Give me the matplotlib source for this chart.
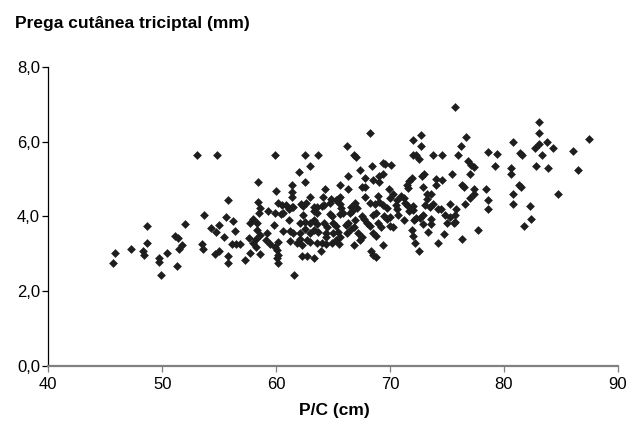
import matplotlib
matplotlib.use("Agg")
import matplotlib.pyplot as plt
from matplotlib.ticker import FuncFormatter

plt.rcParams["font.family"] = ["Liberation Sans", "DejaVu Sans"]

# P/C (cm) vs prega cutanea triciptal (mm)
pc_cm = [
    53.1, 54.8, 59.9, 58.4, 60.0, 61.4, 61.4,
    68.2, 66.2, 62.5, 63.7, 66.8, 67.0, 63.0, 62.0, 62.5, 66.3, 67.4, 68.4, 69.4,
    69.6, 70.1, 69.4, 69.0, 67.8, 68.5, 69.0, 65.6, 66.3, 64.3, 67.5, 67.8, 69.9, 70.3,
    75.7, 72.7, 72.0, 72.7, 76.7, 76.2, 80.8, 72.0, 72.3, 72.5, 73.8, 74.6, 76.0, 78.6,
    79.4, 76.8, 77.1, 77.4, 79.2, 80.6, 80.6, 77.0, 75.4, 72.8, 73.0, 71.9, 71.7, 71.5,
    71.6, 74.0, 74.6, 74.0, 72.9, 76.3, 76.5, 77.4, 78.4, 73.2, 73.6, 77.4, 80.8,
    83.1, 83.1, 83.8, 83.1, 82.7, 84.3, 87.5, 86.1, 81.4, 81.6, 83.3, 82.8, 83.9, 86.5,
    81.3, 81.5, 84.7,
    45.9, 45.7, 47.3, 48.7, 48.7, 48.3, 48.4, 49.7, 49.7, 49.9, 50.4, 51.3, 51.1, 51.4,
    51.7, 51.5, 52.0,
    61.4, 55.8, 58.4, 53.7, 55.6, 56.2, 58.6, 58.5, 59.3, 57.7, 58.0, 59.8, 60.2, 60.5,
    60.9, 59.9, 60.4, 60.6, 61.1, 61.4, 61.1, 60.6, 61.2, 54.3, 55.0, 54.7, 55.4, 56.4,
    56.1, 56.5, 56.8, 53.5, 53.6, 54.6, 55.0, 55.8, 55.8, 58.3, 58.3, 57.6, 58.0, 58.2,
    58.6, 59.2, 59.1, 58.2, 57.7, 58.6, 57.3, 59.5, 59.9, 60.2, 60.1, 60.2, 60.1, 60.2,
    61.2, 61.6,
    63.0, 64.1, 64.8, 65.4, 65.6, 67.8, 68.9, 70.0, 70.6, 71.0,
    61.5, 62.2, 62.4, 62.6, 63.3, 63.6, 64.0, 64.2, 64.7, 65.3, 65.6, 65.7, 66.6, 66.9,
    67.1, 68.2, 68.7, 69.0, 69.4, 69.7, 70.5, 70.6,
    62.4, 63.3, 63.6, 64.7, 64.9, 65.6, 65.9, 66.5, 66.7, 67.5, 67.7, 68.5, 68.8, 69.5,
    69.7, 70.0, 70.7,
    62.1, 62.5, 63.0, 63.3, 63.6, 64.2, 64.5, 65.0, 65.3, 66.1, 66.3, 66.9, 66.8, 68.0,
    68.2, 68.9, 69.2, 70.0, 70.3,
    61.5, 62.1, 62.5, 63.0, 63.3, 63.7, 64.4, 64.4, 65.0, 65.4, 65.6, 66.2, 66.6, 67.2,
    67.5, 68.5, 68.8,
    62.1, 61.8, 62.3, 62.7, 63.0, 63.6, 64.0, 64.4, 64.9, 65.3, 65.5, 66.8, 67.4, 69.4,
    63.9, 62.3, 62.7, 63.3, 68.3, 68.5, 68.8,
    73.2, 71.2, 71.3, 71.6, 72.0, 72.0, 71.7, 73.1, 73.5, 73.8, 74.2, 74.5, 75.3, 75.8,
    76.6, 77.0, 78.6, 78.6, 80.8, 71.2, 72.1, 72.3, 72.6, 72.9, 72.9, 73.6, 73.6, 74.8,
    75.3, 75.7, 75.0, 75.6, 75.7, 71.9, 72.0, 73.3, 74.7, 77.7, 72.2, 72.5, 74.2, 76.3,
    82.3, 82.4, 81.8,
]
prega_mm = [
    5.63, 5.63, 5.63, 4.93, 4.68, 4.84, 4.64,
    6.23, 5.88, 5.63, 5.63, 5.63, 5.60, 5.34, 5.18, 4.93, 5.08, 5.23, 5.34, 5.43,
    5.40, 5.38, 5.13, 5.07, 5.03, 4.98, 4.92, 4.83, 4.72, 4.72, 4.78, 4.78, 4.73, 4.61,
    6.93, 6.18, 6.03, 5.88, 6.13, 5.88, 5.99, 5.63, 5.63, 5.53, 5.63, 5.63, 5.63, 5.73,
    5.68, 5.49, 5.37, 5.33, 5.34, 5.29, 5.13, 5.13, 5.13, 5.08, 5.13, 5.03, 4.95, 4.84,
    4.75, 5.00, 4.98, 4.84, 4.79, 4.83, 4.78, 4.72, 4.72, 4.59, 4.59, 4.61, 4.60,
    6.53, 6.23, 5.99, 5.94, 5.84, 5.84, 6.08, 5.74, 5.69, 5.63, 5.63, 5.34, 5.29, 5.23,
    4.84, 4.78, 4.60,
    3.03, 2.74, 3.13, 3.74, 3.28, 3.08, 2.97, 2.88, 2.78, 2.43, 3.03, 2.67, 3.48, 3.41,
    3.24, 3.12, 3.79,
    4.51, 4.43, 4.38, 4.03, 3.98, 3.88, 4.22, 4.10, 4.13, 3.83, 3.92, 3.78, 4.37, 4.30,
    4.30, 4.08, 4.06, 4.08, 4.19, 4.24, 3.90, 3.62, 3.62, 3.68, 3.76, 3.57, 3.46, 3.62,
    3.25, 3.25, 3.25, 3.25, 3.12, 2.99, 3.08, 2.94, 2.75, 3.82, 3.64, 3.41, 3.28, 3.39,
    3.50, 3.55, 3.37, 3.19, 3.01, 2.99, 2.83, 3.26, 3.17, 3.32, 3.10, 2.97, 2.88, 2.75,
    3.35, 2.43,
    4.51, 4.51, 4.46, 4.46, 4.53, 4.53, 4.55, 4.48, 4.44, 4.55,
    4.26, 4.33, 4.28, 4.35, 4.24, 4.24, 4.28, 4.30, 4.37, 4.44, 4.33, 4.22, 4.26, 4.37,
    4.22, 4.35, 4.33, 4.39, 4.30, 4.22, 4.30, 4.19,
    4.04, 4.15, 4.08, 4.06, 4.01, 4.06, 4.10, 4.08, 4.15, 4.01, 3.92, 4.04, 4.10, 4.01,
    3.92, 3.99, 4.04,
    3.82, 3.86, 3.83, 3.89, 3.80, 3.82, 3.72, 3.82, 3.74, 3.77, 3.82, 3.90, 3.71, 3.82,
    3.74, 3.82, 3.71, 3.74, 3.71,
    3.55, 3.56, 3.65, 3.55, 3.64, 3.59, 3.56, 3.46, 3.55, 3.59, 3.46, 3.56, 3.65, 3.55,
    3.46, 3.55, 3.48,
    3.39, 3.30, 3.24, 3.37, 3.32, 3.28, 3.30, 3.26, 3.30, 3.37, 3.26, 3.24, 3.37, 3.24,
    3.08, 2.94, 2.94, 2.88, 3.06, 2.97, 2.90,
    4.46, 4.48, 4.35, 4.28, 4.28, 4.17, 4.13, 4.30, 4.24, 4.33, 4.19, 4.19, 4.33, 4.19,
    4.33, 4.48, 4.44, 4.19, 4.33, 3.89, 3.90, 3.95, 3.95, 4.04, 3.79, 3.92, 3.80, 4.04,
    3.99, 4.04, 3.83, 3.82, 3.86, 3.64, 3.48, 3.58, 3.54, 3.64, 3.30, 3.08, 3.30, 3.39,
    4.29, 3.93, 3.73,
]

x_ticks = [40, 50, 60, 70, 80, 90]
y_ticks = [0, 2, 4, 6, 8]

fig = plt.figure(figsize=(6.43, 4.34), dpi=100)
ax = fig.add_axes([0.075, 0.157, 0.886, 0.689])

ax.scatter(pc_cm, prega_mm, marker="D", s=20, color="#1e1e1e", linewidths=0, zorder=3)

ax.set_xlim(40, 90)
ax.set_ylim(0, 8)
ax.set_xticks(x_ticks)
ax.set_yticks(y_ticks)
ax.yaxis.set_major_formatter(FuncFormatter(lambda v, p: f"{v:.1f}".replace(".", ",")))

for side in ("top", "right"):
    ax.spines[side].set_visible(False)
ax.spines["left"].set_color("black")
ax.spines["left"].set_linewidth(0.9)
ax.spines["bottom"].set_color("#808080")
ax.spines["bottom"].set_linewidth(1.6)
ax.tick_params(axis="y", direction="out", length=4, width=0.9, labelsize=12, pad=2)
ax.tick_params(axis="x", direction="out", length=4, width=0.9, color="#808080",
               labelsize=12, pad=4)

fig.text(0.024, 0.947, "Prega cutânea triciptal (mm)", fontsize=12.5, fontweight="bold",
         ha="left", va="center")
fig.text(0.52, 0.055, "P/C (cm)", fontsize=12.5, fontweight="bold", ha="center", va="center")

fig.savefig("out.png", dpi=100)
